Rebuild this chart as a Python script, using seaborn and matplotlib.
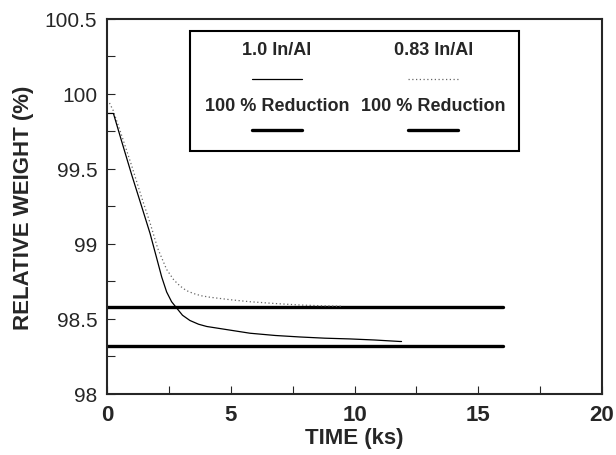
import numpy as np
import pandas as pd
import matplotlib
matplotlib.use("Agg")
import matplotlib.pyplot as plt
from matplotlib.patches import Rectangle
from matplotlib.ticker import MultipleLocator
import seaborn as sns

# curves
t_100 = [0.0, 0.26, 0.6, 1.0, 1.4, 1.74, 2.0, 2.21, 2.41, 2.61, 2.79, 3.05, 3.35,
         3.7, 4.03, 5.0, 5.78, 6.8, 7.8, 8.8, 9.82, 10.8, 11.84, 11.9]
w_100 = [99.87, 99.87, 99.68, 99.46, 99.25, 99.07, 98.91, 98.78, 98.68, 98.615, 98.578,
         98.525, 98.49, 98.465, 98.45, 98.425, 98.405, 98.39, 98.38, 98.372, 98.367,
         98.36, 98.35, 98.35]

t_083 = [0.1, 0.25, 0.6, 1.0, 1.4, 1.74, 2.05, 2.41, 2.7, 2.95, 3.2, 3.49, 3.8, 4.16,
         5.0, 5.78, 6.8, 7.8, 8.7, 9.55]
w_083 = [99.94, 99.89, 99.72, 99.52, 99.31, 99.14, 98.97, 98.83, 98.76, 98.72, 98.69,
         98.67, 98.655, 98.645, 98.628, 98.615, 98.603, 98.593, 98.588, 98.585]

# 100 % reduction levels
red_levels = [98.578, 98.322]
red_t = [0.0, 16.0]

legend_titles = ["1.0 In/Al", "0.83 In/Al"]
legend_sub = "100 % Reduction"

df_100 = pd.DataFrame({"t": t_100, "w": w_100})
df_083 = pd.DataFrame({"t": t_083, "w": w_083})
df_red = pd.DataFrame({"t": red_t * len(red_levels),
                       "w": np.repeat(red_levels, len(red_t)),
                       "lvl": np.repeat(["a", "b"], len(red_t))})

sns.set_style("ticks")
plt.rcParams['font.family'] = ['Liberation Sans', 'DejaVu Sans']

fig = plt.figure(figsize=(6.16, 4.56), dpi=100)
ax = fig.add_axes([0.1737, 0.1338, 0.8036, 0.8224])

sns.lineplot(data=df_red, x="t", y="w", units="lvl", estimator=None,
             color="black", linewidth=2.4, ax=ax)
sns.lineplot(data=df_083, x="t", y="w", color="#666666", linewidth=0.9,
             linestyle=(0, (1, 2)), ax=ax)
sns.lineplot(data=df_100, x="t", y="w", color="black", linewidth=0.9, ax=ax)

ax.set_xlim(0, 20)
ax.set_ylim(98, 100.5)
ax.xaxis.set_major_locator(MultipleLocator(5))
ax.xaxis.set_minor_locator(MultipleLocator(2.5))
ax.yaxis.set_minor_locator(MultipleLocator(0.25))
ax.set_yticks([98, 98.5, 99, 99.5, 100, 100.5])
ax.set_yticklabels(["98", "98.5", "99", "99.5", "100", "100.5"])
ax.tick_params(which="both", direction="in", length=6, width=0.8, pad=7)
ax.tick_params(axis="x", labelsize=16)
ax.tick_params(axis="y", labelsize=15)
for lab in ax.get_xticklabels():
    lab.set_fontweight("bold")
for sp in ax.spines.values():
    sp.set_linewidth(1.5)
    sp.set_visible(True)

ax.set_xlabel("TIME (ks)", fontsize=16, fontweight="bold", labelpad=2)
ax.set_ylabel("RELATIVE WEIGHT (%)", fontsize=16, fontweight="bold", labelpad=8)

# hand-made legend box
ax.add_patch(Rectangle((0.168, 0.648), 0.664, 0.32, transform=ax.transAxes,
                       fill=False, edgecolor="black", linewidth=1.5))
cols = [0.343, 0.659]
styles = [dict(color="black", linewidth=0.9),
          dict(color="#666666", linewidth=0.9, linestyle=(0, (1, 2)))]
for cx, title, st in zip(cols, legend_titles, styles):
    ax.text(cx, 0.918, title, transform=ax.transAxes, ha="center", va="center",
            fontsize=13, fontweight="bold")
    ax.plot([cx - 0.05, cx + 0.05], [0.84, 0.84], transform=ax.transAxes, **st)
    ax.text(cx, 0.77, legend_sub, transform=ax.transAxes, ha="center", va="center",
            fontsize=13, fontweight="bold")
    ax.plot([cx - 0.05, cx + 0.05], [0.704, 0.704], transform=ax.transAxes,
            color="black", linewidth=2.4)

fig.savefig("out.png", dpi=100)
